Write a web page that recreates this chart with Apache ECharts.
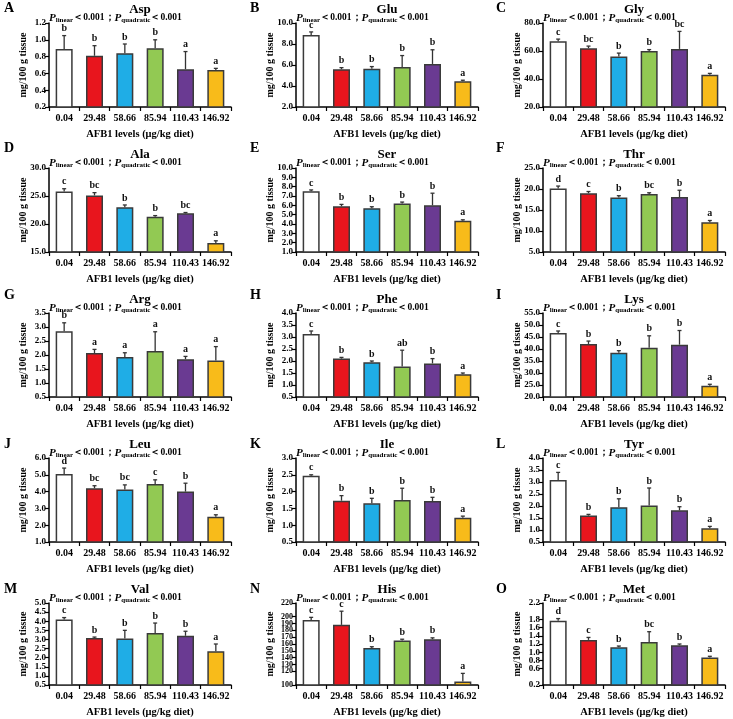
<!DOCTYPE html>
<html><head><meta charset="utf-8">
<script src="https://cdn.jsdelivr.net/npm/echarts@6/dist/echarts.min.js"></script>
<style>html,body{margin:0;padding:0;background:#fff}#c{width:733px;height:719px}</style>
</head><body><div id="c"></div>
<script>
const categories = ['0.04','29.48','58.66','85.94','110.43','146.92'];
const barColors = ['#FFFFFF','#E8151D','#1FADE6','#92C953','#6A3A92','#F8BB1A'];
const panelLetters = ['A','B','C','D','E','F','G','H','I','J','K','L','M','N','O'];
const panelNames = ['Asp','Glu','Gly','Ala','Ser','Thr','Arg','Phe','Lys','Leu','Ile','Tyr','Val','His','Met'];

const aspMean = [0.89,0.81,0.84,0.90,0.65,0.64], aspSd = [0.16,0.12,0.11,0.10,0.21,0.02], aspSig = ['b','b','b','b','a','a'];
const gluMean = [8.85,5.60,5.65,5.80,6.10,4.45], gluSd = [0.30,0.15,0.20,1.10,1.35,0.10], gluSig = ['c','b','b','b','b','a'];
const glyMean = [67.0,62.0,56.0,60.0,61.5,43.0], glySd = [1.5,1.5,2.5,1.0,12.5,1.0], glySig = ['c','bc','b','b','bc','a'];
const alaMean = [25.8,25.1,23.0,21.3,21.9,16.6], alaSd = [0.5,0.5,0.4,0.2,0.15,0.4], alaSig = ['c','bc','b','b','bc','a'];
const serMean = [7.5,5.9,5.7,6.2,6.0,4.35], serSd = [0.15,0.2,0.15,0.15,1.3,0.1], serSig = ['c','b','b','b','b','a'];
const thrMean = [20.1,19.0,18.0,18.8,18.1,12.1], thrSd = [0.6,0.4,0.4,0.3,1.6,0.4], thrSig = ['d','c','b','bc','b','a'];
const argMean = [2.85,2.07,1.93,2.14,1.85,1.80], argSd = [0.30,0.13,0.15,0.69,0.10,0.50], argSig = ['b','a','a','a','a','a'];
const pheMean = [3.13,2.10,1.95,1.77,1.90,1.45], pheSd = [0.12,0.05,0.05,0.68,0.20,0.05], pheSig = ['c','b','b','ab','b','a'];
const lysMean = [46.7,42.1,38.4,40.5,41.8,24.7], lysSd = [0.8,1.2,0.9,5.0,5.9,0.6], lysSig = ['c','b','b','b','b','a'];
const leuMean = [5.05,4.20,4.12,4.45,4.00,2.50], leuSd = [0.35,0.15,0.28,0.25,0.50,0.12], leuSig = ['d','bc','bc','c','b','a'];
const ileMean = [2.47,1.73,1.65,1.75,1.72,1.22], ileSd = [0.03,0.15,0.15,0.35,0.11,0.05], ileSig = ['c','b','b','b','b','a'];
const tyrMean = [3.08,1.60,1.95,2.02,1.82,1.07], tyrSd = [0.32,0.05,0.35,0.73,0.15,0.08], tyrSig = ['c','b','b','b','b','a'];
const valMean = [4.10,3.08,3.05,3.35,3.20,2.35], valSd = [0.10,0.05,0.45,0.55,0.25,0.40], valSig = ['c','b','b','b','b','a'];
const hisMean = [195,188,154,165,167,105], hisSd = [4,20,2,2,2,12], hisSig = ['c','c','b','b','b','a'];
const metMean = [1.77,1.30,1.12,1.25,1.17,0.87], metSd = [0.05,0.06,0.03,0.25,0.03,0.03], metSig = ['d','c','b','bc','b','a'];

const yMin  = [0.2, 2, 20, 15, 1, 5, 0.5, 0.5, 20, 1, 0.5, 0.5, 0.5, 100, 0.2];
const yMax  = [1.2, 10, 80, 30, 10, 25, 3.5, 4.0, 55, 6, 3.0, 4.0, 5.0, 220, 2.2];
const yStep = [0.2, 2, 20, 5, 1, 5, 0.5, 0.5, 5, 1, 0.5, 0.5, 0.5, 10, 0.2];
const yDec  = [1,1,1,1,1,1,1,1,1,1,1,1,1,0,1];

const means = [aspMean,gluMean,glyMean,alaMean,serMean,thrMean,argMean,pheMean,lysMean,leuMean,ileMean,tyrMean,valMean,hisMean,metMean];
const sds = [aspSd,gluSd,glySd,alaSd,serSd,thrSd,argSd,pheSd,lysSd,leuSd,ileSd,tyrSd,valSd,hisSd,metSd];
const sigs = [aspSig,gluSig,glySig,alaSig,serSig,thrSig,argSig,pheSig,lysSig,leuSig,ileSig,tyrSig,valSig,hisSig,metSig];

const FONT = '"Liberation Serif","Times New Roman",serif';
const colLeft = [49, 296, 543];
const rowTop = [23, 168, 313, 458, 603];
const plotW = 182, plotH = 84;
const letterX = [4, 250, 496];
const letterY = [8, 148, 295, 444, 589];

const grid = [], xAxis = [], yAxis = [], series = [], graphic = [];

function makeRender(sig){
  return function(params, api){
    const x = api.value(0), m = api.value(1), t = api.value(2);
    const p0 = api.coord([x, m]), p1 = api.coord([x, t]);
    return {type:'group', children:[
      {type:'line', shape:{x1:p0[0], y1:p0[1], x2:p1[0], y2:p1[1]}, style:{stroke:'#333', lineWidth:1.3}},
      {type:'line', shape:{x1:p1[0]-2, y1:p1[1], x2:p1[0]+2, y2:p1[1]}, style:{stroke:'#333', lineWidth:1.3}},
      {type:'text', x:p1[0], y:p1[1]-2, style:{text:sig[params.dataIndex], fill:'#111', font:'bold 10px '+FONT, align:'center', verticalAlign:'bottom', textAlign:'center', textVerticalAlign:'bottom'}}
    ]};
  };
}

for (let i = 0; i < 15; i++) {
  const r = Math.floor(i/3), c = i % 3;
  const L = colLeft[c], T = rowTop[r];
  grid.push({left:L, top:T, width:plotW, height:plotH, containLabel:false});
  xAxis.push({
    type:'category', gridIndex:i, data:categories,
    axisLine:{lineStyle:{color:'#000', width:1.5}},
    axisTick:{show:true, length:4, lineStyle:{color:'#000', width:1.2}},
    axisLabel:{interval:0, margin:6, color:'#000', fontFamily:FONT, fontWeight:'bold', fontSize:10, hideOverlap:false},
    name:'AFB1 levels (\u03bcg/kg diet)', nameLocation:'middle', nameGap:22, nameMoveOverlap:false,
    nameTextStyle:{color:'#000', fontFamily:FONT, fontWeight:'bold', fontSize:10.5}
  });
  const d = yDec[i];
  yAxis.push({
    type:'value', gridIndex:i, min:yMin[i], max:yMax[i], interval:yStep[i],
    axisLine:{show:true, lineStyle:{color:'#000', width:1.5}},
    axisTick:{show:true, length:4, lineStyle:{color:'#000', width:1.2}},
    splitLine:{show:false},
    axisLabel:{interval:0, margin:3, color:'#000', fontFamily:FONT, fontWeight:'bold', fontSize:(i === 13 ? 8 : 9),
      showMinLabel:true, showMaxLabel:true, hideOverlap:false, formatter:v => v.toFixed(d)},
    name:'mg/100 g tissue', nameLocation:'middle', nameGap:21, nameMoveOverlap:false,
    nameTextStyle:{color:'#000', fontFamily:FONT, fontWeight:'bold', fontSize:10}
  });
  series.push({
    type:'bar', xAxisIndex:i, yAxisIndex:i, barWidth:17,
    data: means[i].map((v,k) => ({value:v, itemStyle:{color:barColors[k]}})),
    itemStyle:{borderColor:'#3a3a3a', borderWidth:1.5}
  });
  series.push({
    type:'custom', xAxisIndex:i, yAxisIndex:i, clip:false, z:5,
    data: means[i].map((v,k) => [k, v, v + sds[i][k]]),
    renderItem: makeRender(sigs[i])
  });
  graphic.push({type:'text', x:letterX[c], y:letterY[r], style:{text:panelLetters[i], fill:'#000', font:'bold 14px '+FONT, align:'left', verticalAlign:'middle', textAlign:'left', textVerticalAlign:'middle'}});
  graphic.push({type:'text', x:L + plotW/2, y:T - 13, style:{text:panelNames[i], fill:'#000', font:'bold 13px '+FONT, align:'center', verticalAlign:'middle', textAlign:'center', textVerticalAlign:'middle'}});
  graphic.push({type:'text', x:L, y:T - 5, style:{
    text:'{p|P}{s|linear}{t|\uff1c0.001\uff1b}{p|P}{s|quadratic}{t|\uff1c0.001}',
    align:'left', verticalAlign:'middle', textAlign:'left', textVerticalAlign:'middle',
    rich:{
      p:{fontFamily:FONT, fontStyle:'italic', fontWeight:'bold', fontSize:11, fill:'#000', lineHeight:13},
      s:{fontFamily:FONT, fontWeight:'bold', fontSize:7, fill:'#000', lineHeight:13, padding:[5,0,0,0]},
      t:{fontFamily:FONT, fontWeight:'bold', fontSize:9.5, fill:'#000', lineHeight:13}
    }
  }});
}

const chart = echarts.init(document.getElementById('c'), null, {renderer:'canvas'});
chart.setOption({animation:false, backgroundColor:'#fff', grid, xAxis, yAxis, series, graphic});
</script>
</body></html>
